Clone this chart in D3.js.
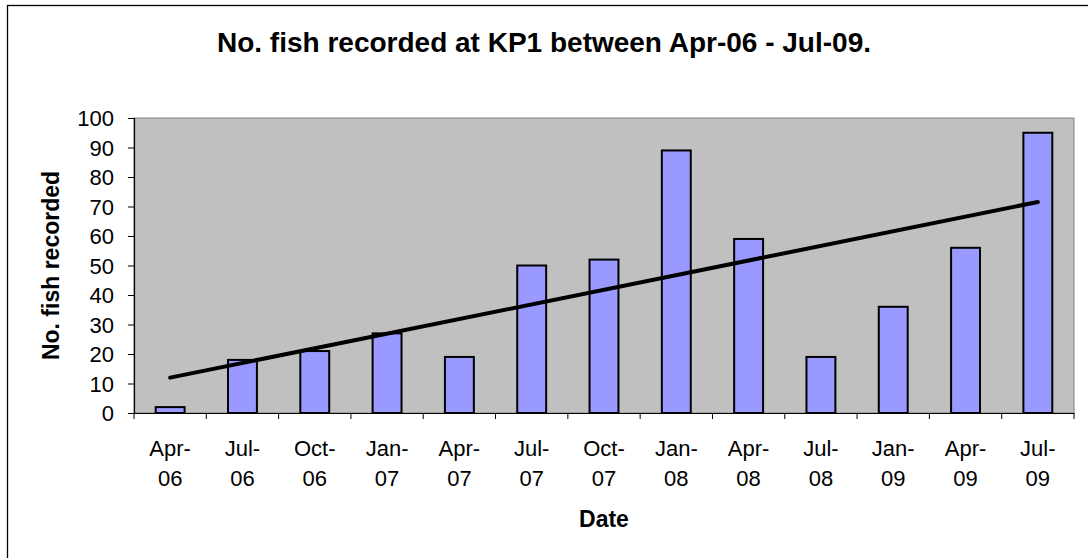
<!DOCTYPE html>
<html>
<head>
<meta charset="utf-8">
<script src="https://cdn.jsdelivr.net/npm/d3@7"></script>
<style>
  html, body { margin: 0; padding: 0; background: #fff; }
  svg { display: block; font-family: "Liberation Sans", Arial, sans-serif; }
</style>
</head>
<body>
<svg id="chart" width="1088" height="558"></svg>
<script>
const title = "No. fish recorded at KP1 between Apr-06 - Jul-09.";
const xTitle = "Date";
const yTitle = "No. fish recorded";
const categories = ["Apr-06","Jul-06","Oct-06","Jan-07","Apr-07","Jul-07","Oct-07","Jan-08","Apr-08","Jul-08","Jan-09","Apr-09","Jul-09"];
const fishCounts = [2, 18, 21, 27, 19, 50, 52, 89, 59, 19, 36, 56, 95];
const yTickValues = [0,10,20,30,40,50,60,70,80,90,100];

const svg = d3.select("#chart");
const plot = { left: 134, top: 118, right: 1074, bottom: 413 };

// outer chart border (extends past the window on right/bottom)
svg.append("rect")
  .attr("x", 7.5).attr("y", 5.5).attr("width", 1200).attr("height", 700)
  .attr("fill", "#fff").attr("stroke", "#000").attr("stroke-width", 1.3);

const x = d3.scaleBand().domain(categories).range([plot.left, plot.right]).paddingInner(0).paddingOuter(0);
const y = d3.scaleLinear().domain([0, 100]).range([plot.bottom, plot.top]);

// plot background
svg.append("rect")
  .attr("x", plot.left).attr("y", plot.top)
  .attr("width", plot.right - plot.left).attr("height", plot.bottom - plot.top)
  .attr("fill", "#C0C0C0").attr("stroke", "#808080").attr("stroke-width", 1);

// bars
const bw = x.bandwidth() / 2.5;
svg.append("g").selectAll("rect").data(categories).join("rect")
  .attr("x", (d) => x(d) + x.bandwidth() / 2 - bw / 2)
  .attr("y", (d, i) => y(fishCounts[i]))
  .attr("width", bw)
  .attr("height", (d, i) => y(0) - y(fishCounts[i]))
  .attr("fill", "#9999FF").attr("stroke", "#000").attr("stroke-width", 2);

// linear trendline (least squares on index)
const n = fishCounts.length;
const xs = d3.range(1, n + 1);
const mx = d3.mean(xs), my = d3.mean(fishCounts);
const slope = d3.sum(xs, (xi, i) => (xi - mx) * (fishCounts[i] - my)) / d3.sum(xs, (xi) => (xi - mx) ** 2);
const intercept = my - slope * mx;
const trendPts = [0, n - 1].map((i) => [x(categories[i]) + x.bandwidth() / 2, y(intercept + slope * (i + 1))]);
svg.append("path")
  .attr("d", d3.line()(trendPts))
  .attr("stroke", "#000").attr("stroke-width", 4).attr("stroke-linecap", "round").attr("fill", "none");

// y axis
const yAxis = svg.append("g").attr("transform", `translate(${plot.left},0)`)
  .call(d3.axisLeft(y).tickValues(yTickValues).tickSize(6).tickPadding(14).tickFormat(d3.format("d")));
yAxis.select(".domain").attr("stroke", "#000").attr("stroke-width", 1.2);
yAxis.selectAll(".tick line").attr("stroke", "#000");
yAxis.selectAll(".tick text").attr("font-size", 22).attr("fill", "#000")
  .attr("font-family", "Liberation Sans, Arial, sans-serif").attr("dy", "0.36em");

// x axis
const xAxis = svg.append("g").attr("transform", `translate(0,${plot.bottom})`)
  .call(d3.axisBottom(x).tickSize(0).tickFormat(""));
xAxis.select(".domain").attr("stroke", "#000").attr("stroke-width", 1.2);
// boundary ticks
const bounds = categories.map((c) => x(c)).concat([plot.right]);
svg.append("g").selectAll("line").data(bounds).join("line")
  .attr("x1", (d) => d).attr("x2", (d) => d)
  .attr("y1", plot.bottom).attr("y2", plot.bottom + 6)
  .attr("stroke", "#000").attr("stroke-width", 1);
// two-line category labels
const labels = svg.append("g").attr("font-size", 22).attr("fill", "#000").attr("text-anchor", "middle");
categories.forEach((c) => {
  const parts = c.split("-");
  const cx = x(c) + x.bandwidth() / 2;
  const t = labels.append("text").attr("x", cx).attr("y", 456);
  t.append("tspan").attr("x", cx).text(parts[0] + "-");
  t.append("tspan").attr("x", cx).attr("dy", 30).text(parts[1]);
});

// titles
svg.append("text").attr("x", 544).attr("y", 52).attr("text-anchor", "middle")
  .attr("font-size", 28).attr("font-weight", "bold").text(title);
svg.append("text").attr("x", (plot.left + plot.right) / 2).attr("y", 527).attr("text-anchor", "middle")
  .attr("font-size", 23).attr("font-weight", "bold").text(xTitle);
svg.append("text")
  .attr("transform", `translate(59,${(plot.top + plot.bottom) / 2}) rotate(-90)`)
  .attr("text-anchor", "middle").attr("font-size", 23).attr("font-weight", "bold").text(yTitle);
</script>
</body>
</html>
